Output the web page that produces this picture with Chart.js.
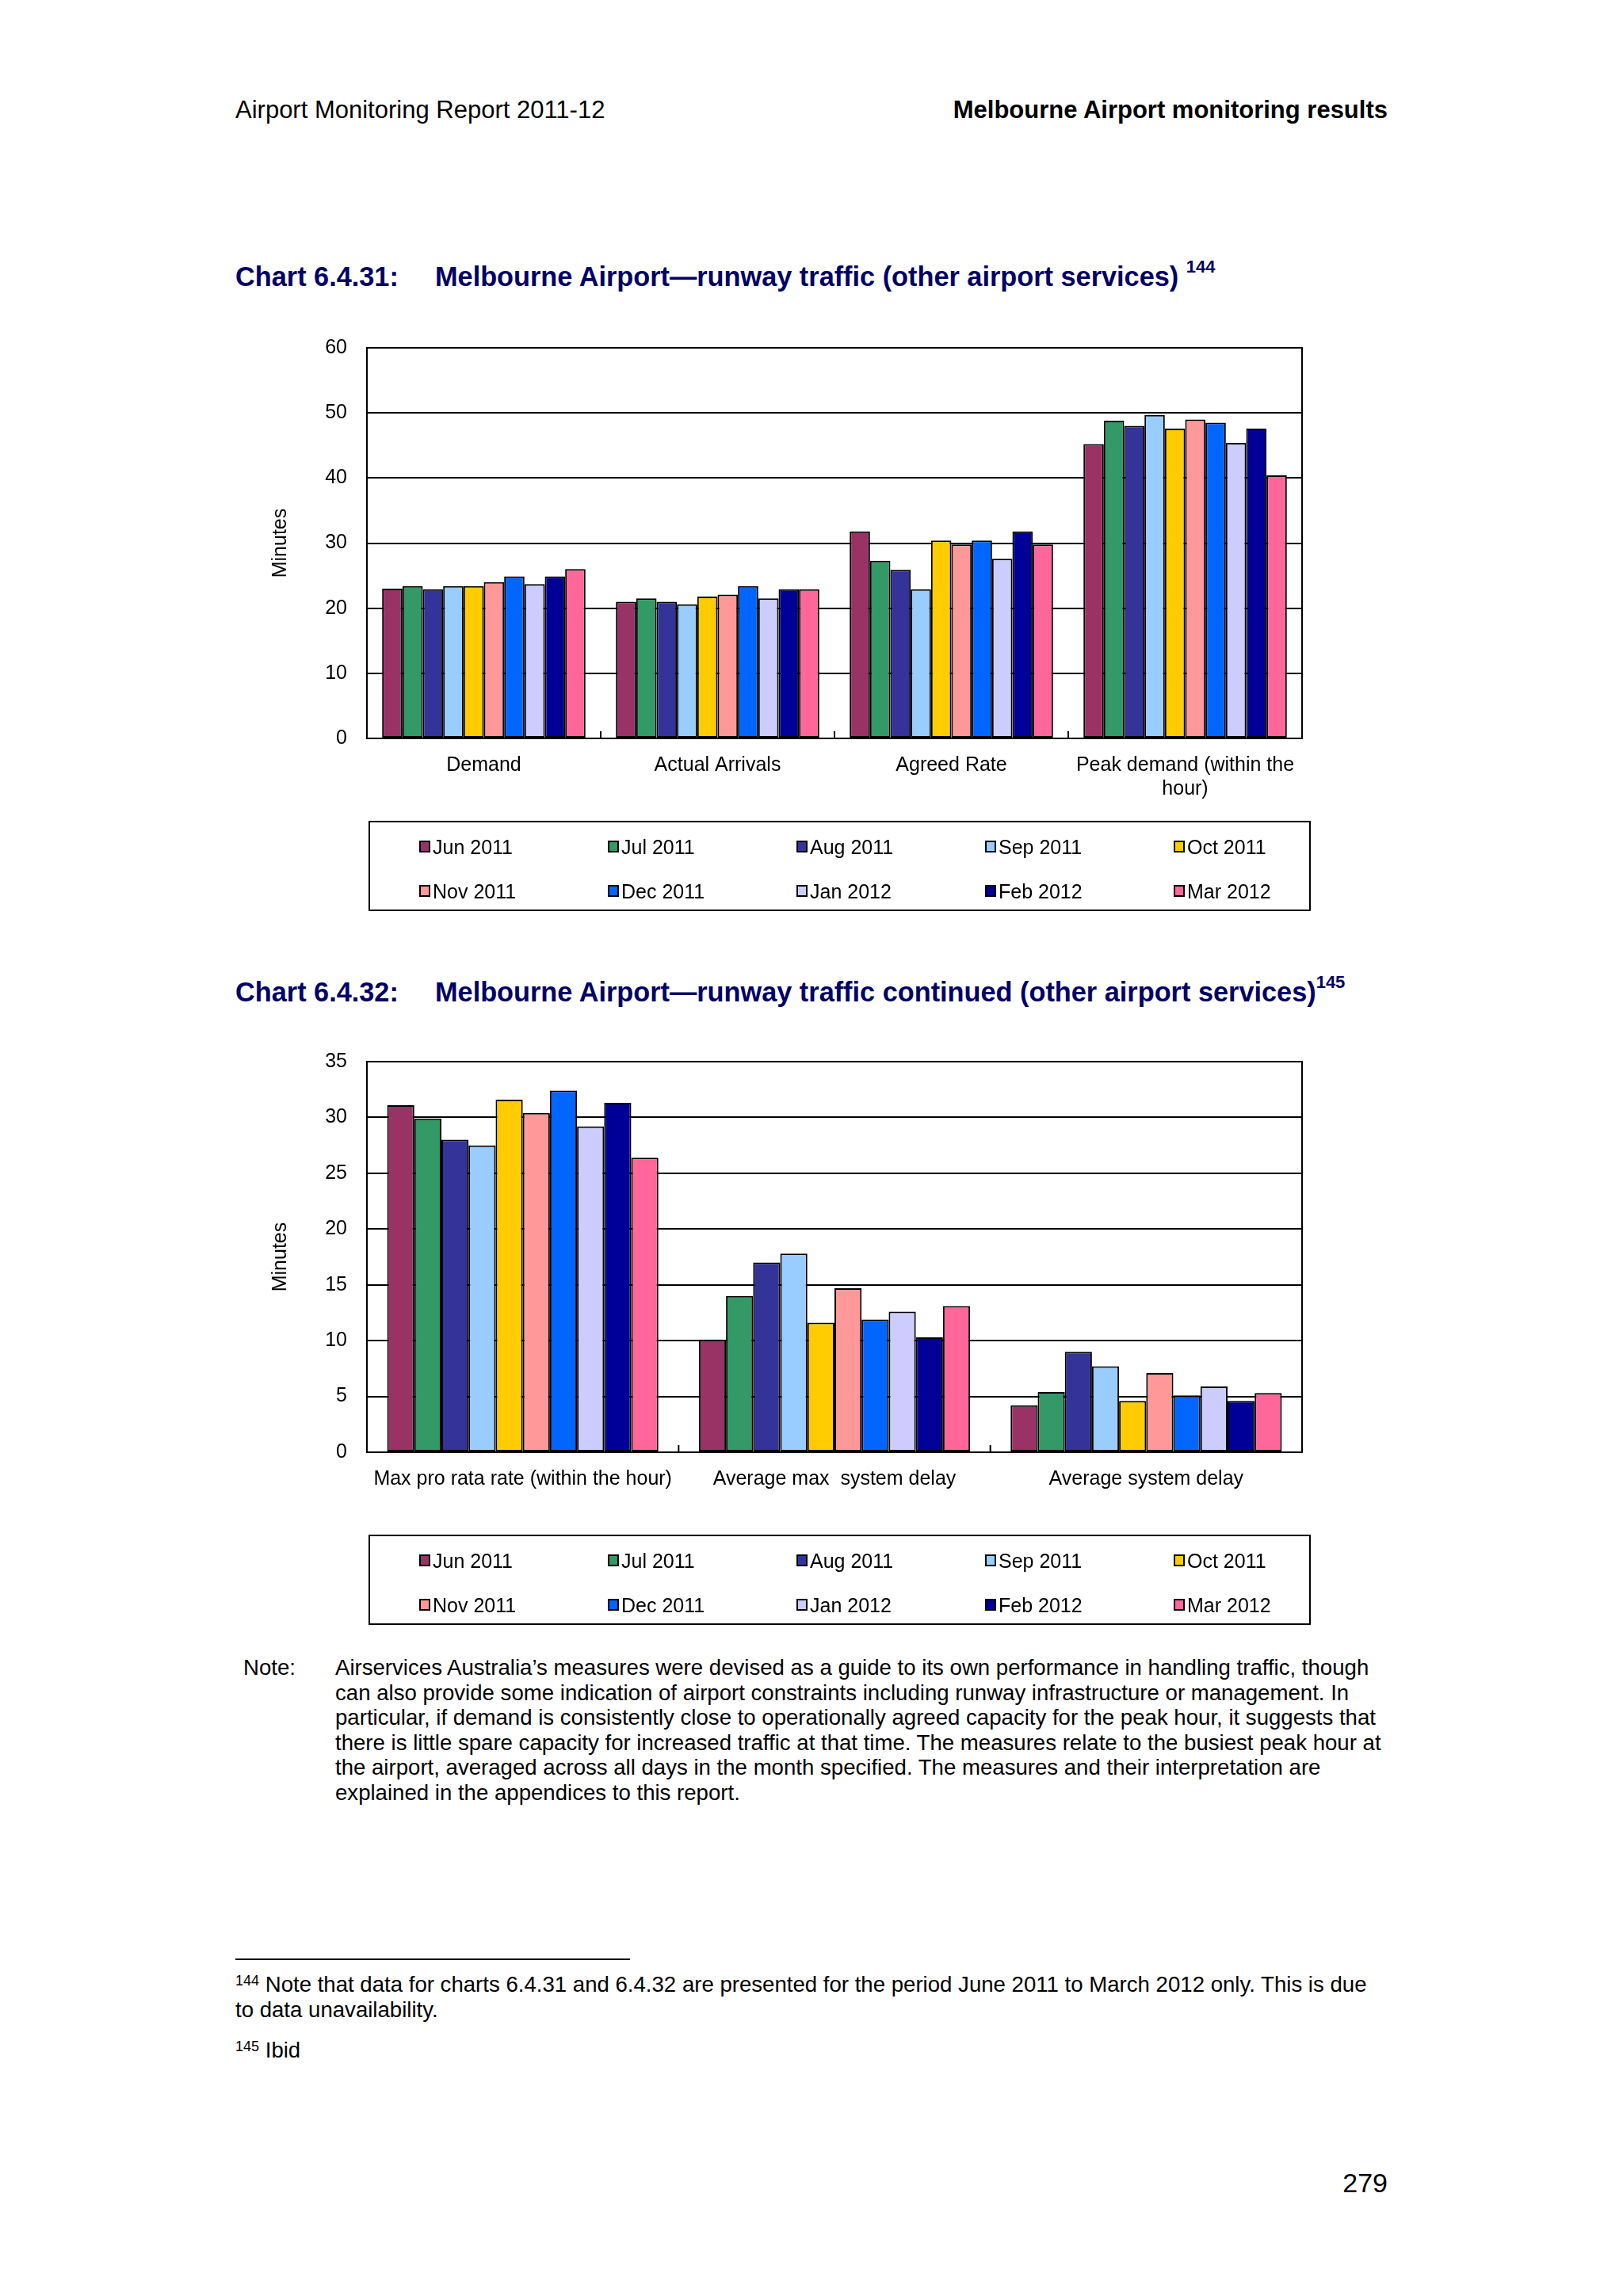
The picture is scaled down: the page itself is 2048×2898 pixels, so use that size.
<!DOCTYPE html>
<html>
<head>
<meta charset="utf-8">
<script src="https://cdn.jsdelivr.net/npm/chart.js@4.4.0/dist/chart.umd.min.js"></script>
<style>
  html, body { margin: 0; padding: 0; background: #fff; }
  body { width: 2048px; height: 2898px; position: relative; overflow: hidden;
         font-family: "Liberation Sans", Arial, sans-serif; color: #000; }
  .abs { position: absolute; white-space: nowrap; }
  .hdr { font-size: 31px; line-height: 36px; }
  .title { font-size: 34.3px; line-height: 40px; font-weight: bold; color: #000066; }
  .title sup { font-size: 22px; position: relative; top: -12px; vertical-align: top; }
  .legend { position: absolute; border: 2px solid #000; box-sizing: border-box; }
  .legend .sw { position: absolute; width: 14px; height: 15px; border: 2px solid #000; box-sizing: border-box; }
  .legend .lbl { position: absolute; font-size: 25px; line-height: 30px; }
  .body { font-size: 27.6px; line-height: 31.5px; }
  .fn sup { font-size: 18px; vertical-align: top; position: relative; top: -4px; }
  .chartbox { position: absolute; }
  .chartbox canvas { display: block; }
</style>
</head>
<body>

<div class="abs hdr" style="left:297px; top:121px;">Airport Monitoring Report 2011-12</div>
<div class="abs hdr" style="right:297px; top:121px; font-weight:bold;">Melbourne Airport monitoring results</div>

<div class="abs title" style="left:297px; top:329px;">Chart 6.4.31:</div>
<div class="abs title" style="left:549px; top:329px;">Melbourne Airport—runway traffic (other airport services) <sup>144</sup></div>

<div class="chartbox" style="left:339px; top:399px; width:1314px; height:641px;">
  <canvas id="chart1" width="1314" height="641"></canvas>
</div>
<div class="legend" id="legend1" style="left:465px; top:1036px; width:1189px; height:114px;"></div>

<div class="abs title" style="left:297px; top:1232px;">Chart 6.4.32:</div>
<div class="abs title" style="left:549px; top:1232px;">Melbourne Airport—runway traffic continued (other airport services)<sup>145</sup></div>

<div class="chartbox" style="left:339px; top:1300px; width:1314px; height:641px;">
  <canvas id="chart2" width="1314" height="641"></canvas>
</div>
<div class="legend" id="legend2" style="left:465px; top:1937px; width:1189px; height:114px;"></div>

<div class="abs body" style="left:307px; top:2089px;">Note:</div>
<div class="abs body" style="left:423px; top:2089px;">
Airservices Australia’s measures were devised as a guide to its own performance in handling traffic, though<br>
can also provide some indication of airport constraints including runway infrastructure or management. In<br>
particular, if demand is consistently close to operationally agreed capacity for the peak hour, it suggests that<br>
there is little spare capacity for increased traffic at that time. The measures relate to the busiest peak hour at<br>
the airport, averaged across all days in the month specified. The measures and their interpretation are<br>
explained in the appendices to this report.
</div>

<div class="abs" style="left:297px; top:2472px; width:498px; height:2px; background:#000;"></div>
<div class="abs body fn" style="left:297px; top:2489px;"><sup>144</sup> Note that data for charts 6.4.31 and 6.4.32 are presented for the period June 2011 to March 2012 only. This is due<br>to data unavailability.</div>
<div class="abs body fn" style="left:297px; top:2572px;"><sup>145</sup> Ibid</div>

<div class="abs" style="right:297px; top:2735px; font-size:34px; line-height:40px;">279</div>

<script>
// Series names and colours (one per month)
const months = ['Jun 2011', 'Jul 2011', 'Aug 2011', 'Sep 2011', 'Oct 2011',
                'Nov 2011', 'Dec 2011', 'Jan 2012', 'Feb 2012', 'Mar 2012'];
const colors = ['#993366', '#339966', '#333399', '#99CCFF', '#FFCC00',
                '#FF9999', '#0066FF', '#CCCCFF', '#000099', '#FF6699'];

// Chart 6.4.31 categories and values (minutes, per month)
const cats1 = ['Demand', 'Actual Arrivals', 'Agreed Rate', ['Peak demand (within the', 'hour)']];
const demand = [23, 23.4, 22.9, 23.4, 23.4, 24, 24.9, 23.7, 24.9, 26];
const actualArrivals = [21, 21.5, 21, 20.6, 21.8, 22.1, 23.4, 21.5, 22.9, 22.9];
const agreedRate = [31.8, 27.3, 25.9, 22.9, 30.4, 29.8, 30.4, 27.6, 31.8, 29.8];
const peakDemand = [45.2, 48.8, 48, 49.7, 47.6, 49, 48.5, 45.4, 47.6, 40.4];
const yTicks1 = [0, 10, 20, 30, 40, 50, 60];

// Chart 6.4.32 categories and values
const cats2 = ['Max pro rata rate (within the hour)', 'Average max  system delay', 'Average system delay'];
const maxProRata = [31.1, 29.9, 28, 27.5, 31.6, 30.4, 32.4, 29.2, 31.3, 26.4];
const avgMaxDelay = [10.1, 14, 17, 17.8, 11.6, 14.7, 11.9, 12.6, 10.3, 13.1];
const avgDelay = [4.2, 5.4, 9, 7.7, 4.6, 7.1, 5.1, 5.9, 4.6, 5.3];
const yTicks2 = [0, 5, 10, 15, 20, 25, 30, 35];

Chart.defaults.font.family = '"Liberation Sans", Arial, sans-serif';
Chart.defaults.font.size = 25;
Chart.defaults.color = '#000';

// frame round the plot and the little marks between categories
const framePlugin = {
  id: 'frame',
  afterDatasetsDraw(chart) {
    const { ctx, chartArea: a, scales: { x } } = chart;
    ctx.save();
    ctx.strokeStyle = '#000';
    ctx.lineWidth = 2;
    ctx.strokeRect(a.left, a.top, a.right - a.left, a.bottom - a.top);
    const n = chart.data.labels.length;
    for (let i = 1; i < n; i++) {
      const px = (x.getPixelForValue(i - 1) + x.getPixelForValue(i)) / 2;
      ctx.beginPath();
      ctx.moveTo(px, a.bottom);
      ctx.lineTo(px, a.bottom - 9);
      ctx.stroke();
    }
    ctx.restore();
  }
};

function buildDatasets(groups) {
  return months.map((m, i) => ({
    label: m,
    data: groups.map(g => g[i]),
    backgroundColor: colors[i],
    borderColor: '#000',
    borderWidth: 2,
    borderSkipped: false,
    barPercentage: 1,
    categoryPercentage: 0.87
  }));
}

function makeChart(id, labels, groups, ticks) {
  const max = ticks[ticks.length - 1];
  const step = ticks[1] - ticks[0];
  return new Chart(document.getElementById(id), {
    type: 'bar',
    data: { labels: labels, datasets: buildDatasets(groups) },
    plugins: [framePlugin],
    options: {
      responsive: false,
      animation: false,
      devicePixelRatio: 1,
      layout: { padding: { top: 2, right: 10, left: 0, bottom: 0 } },
      plugins: { legend: { display: false }, tooltip: { enabled: false } },
      scales: {
        x: {
          grid: { display: false },
          border: { display: true, color: '#000', width: 2 },
          ticks: { padding: 11, maxRotation: 0, autoSkip: false, font: { size: 25 } },
          afterFit(scale) { scale.height = 108; }
        },
        y: {
          min: 0,
          max: max,
          ticks: { stepSize: step, padding: 25, font: { size: 25 } },
          grid: { color: '#000', lineWidth: 2, drawTicks: false },
          border: { display: true, color: '#000', width: 2 },
          title: { display: true, text: 'Minutes', font: { size: 25 }, padding: 0 },
          afterFit(scale) { scale.width = 124; }
        }
      }
    }
  });
}

function buildLegend(id) {
  const box = document.getElementById(id);
  months.forEach((m, i) => {
    const col = i % 5, row = Math.floor(i / 5);
    const left = 62 + col * 238;
    const cy = row === 0 ? 31 : 87;
    const sw = document.createElement('div');
    sw.className = 'sw';
    sw.style.left = left + 'px';
    sw.style.top = (cy - 8) + 'px';
    sw.style.background = colors[i];
    const lb = document.createElement('div');
    lb.className = 'lbl';
    lb.style.left = (left + 17) + 'px';
    lb.style.top = (cy - 15) + 'px';
    lb.textContent = m;
    box.appendChild(sw);
    box.appendChild(lb);
  });
}

makeChart('chart1', cats1, [demand, actualArrivals, agreedRate, peakDemand], yTicks1);
makeChart('chart2', cats2, [maxProRata, avgMaxDelay, avgDelay], yTicks2);
buildLegend('legend1');
buildLegend('legend2');
</script>
</body>
</html>
